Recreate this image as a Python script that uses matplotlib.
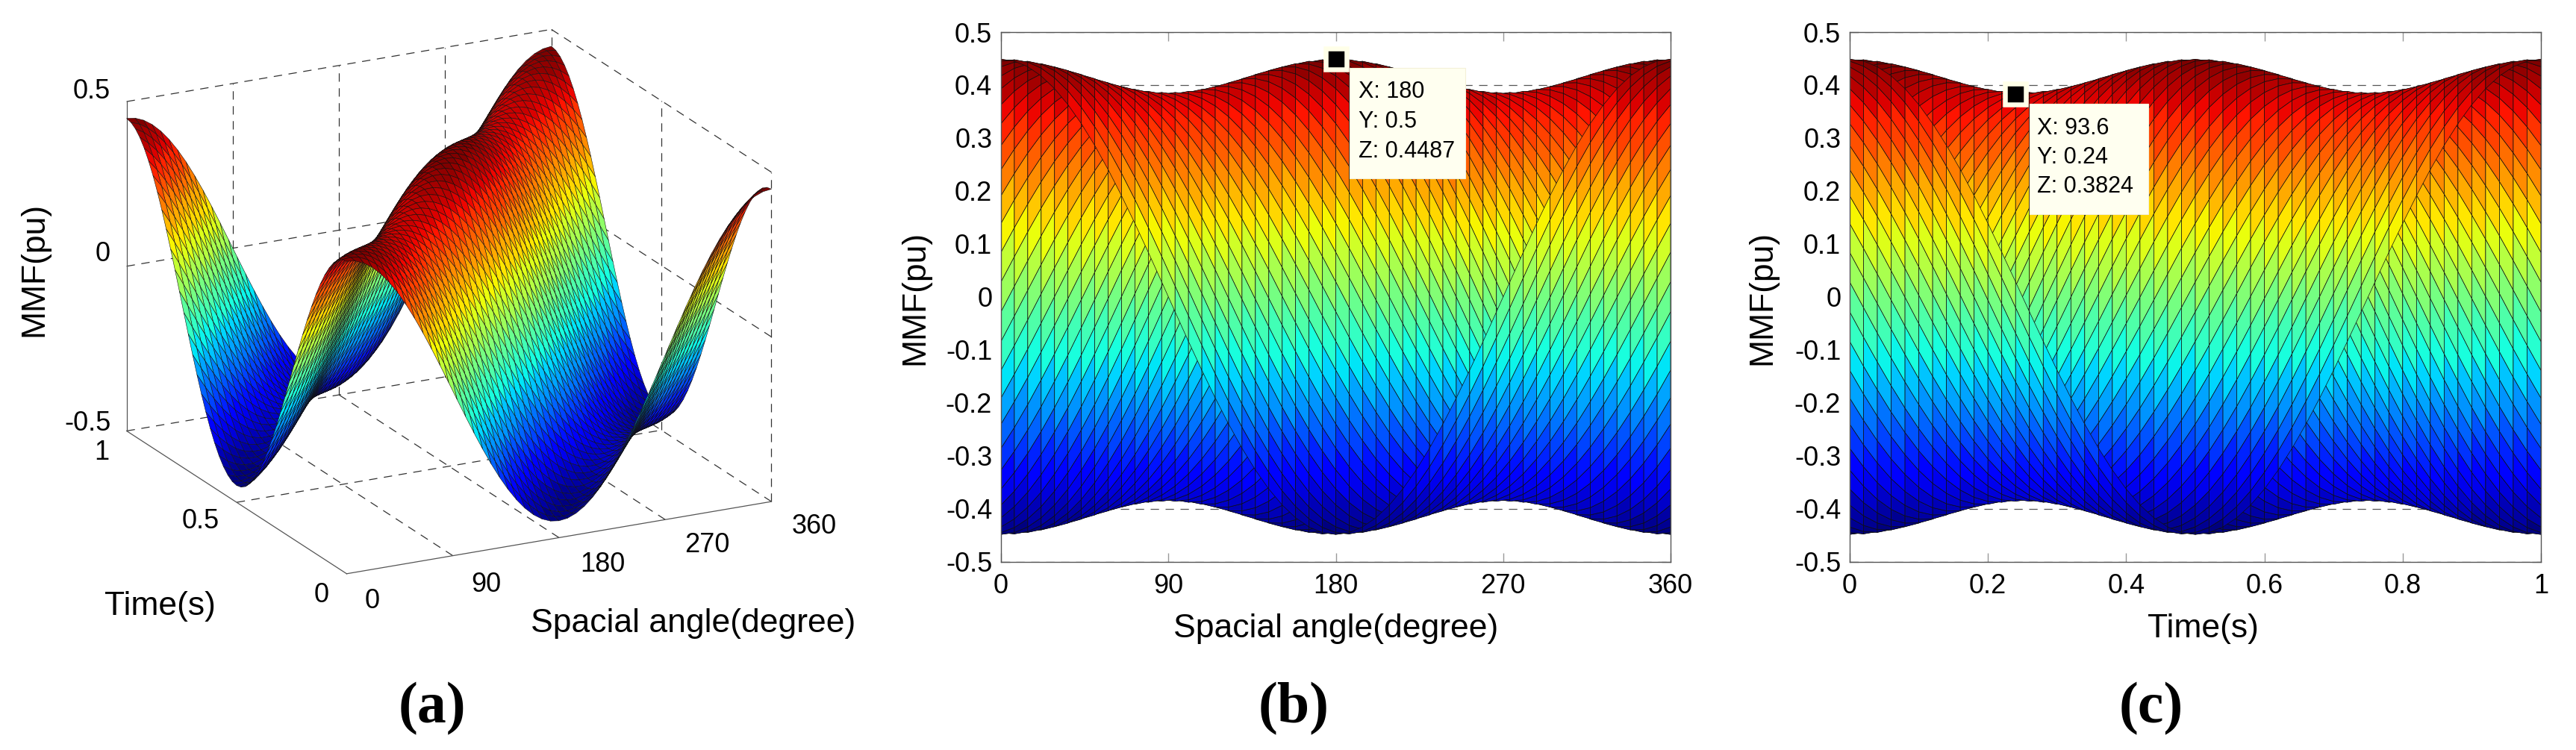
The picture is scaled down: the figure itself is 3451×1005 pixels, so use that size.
import numpy as np
import matplotlib
matplotlib.use("Agg")
import matplotlib.pyplot as plt
from matplotlib.collections import PolyCollection
from matplotlib.colors import Normalize
from matplotlib.patches import Rectangle

W, H = 3451, 1005
plt.rcParams['font.family'] = ['Liberation Sans', 'DejaVu Sans']

# Surface mesh: 51 x 51 nodes (7.2 degree / 0.02 s steps, as the datatips show).
# The surface is not typed cell by cell. It is the sum of two travelling-wave
# profiles per mesh step, estimated from the envelope and datatips of the chart.
forward_wave = [.4172, .4139, .4041, .3879, .3656, .3375, .3041, .2659, .2235, .1776,
                .1289, .0782, .0262, -.0262, -.0782, -.1289, -.1776, -.2235, -.2659, -.3041,
                -.3375, -.3656, -.3879, -.4041, -.4139, -.4172, -.4139, -.4041, -.3879, -.3656,
                -.3375, -.3041, -.2659, -.2235, -.1776, -.1289, -.0782, -.0262, .0262, .0782,
                .1289, .1776, .2235, .2659, .3041, .3375, .3656, .3879, .4041, .4139]
backward_wave = [.0315, .0313, .0305, .0293, .0276, .0255, .0230, .0201, .0169, .0134,
                 .0097, .0059, .0020, -.0020, -.0059, -.0097, -.0134, -.0169, -.0201, -.0230,
                 -.0255, -.0276, -.0293, -.0305, -.0313, -.0315, -.0313, -.0305, -.0293, -.0276,
                 -.0255, -.0230, -.0201, -.0169, -.0134, -.0097, -.0059, -.0020, .0020, .0059,
                 .0097, .0134, .0169, .0201, .0230, .0255, .0276, .0293, .0305, .0313]
angle_ticks = [0, 90, 180, 270, 360]
time_ticks_3d = [0, 0.5, 1]
time_ticks = [0, 0.2, 0.4, 0.6, 0.8, 1]
mmf_ticks_3d = [-0.5, 0, 0.5]
mmf_ticks = [-0.5, -0.4, -0.3, -0.2, -0.1, 0, 0.1, 0.2, 0.3, 0.4, 0.5]
tip_b = (180, 0.5, 0.4487)
tip_c = (93.6, 0.24, 0.3824)

n = len(forward_wave) + 1
angles = np.linspace(0, 360, n)
times = np.linspace(0, 1, n)
fw, bw = np.array(forward_wave), np.array(backward_wave)
I, J = np.meshgrid(np.arange(n), np.arange(n))
Z = fw[(I - J) % 50] + bw[(I + J) % 50]   # Z[time index, angle index]
X, T = np.meshgrid(angles, times)

cmap = plt.get_cmap('jet', 64)
norm = Normalize(Z.min(), Z.max())
EDGE = '#111111'
AXC = '#555555'
TICKFS, LABELFS, TIPFS = 26, 32, 22

fig = plt.figure(figsize=(W / 100, H / 100), dpi=100, facecolor='white')


def fx(x):
    return x / W


def fy(y):
    return 1 - y / H


def px_axes(l, t, r, b, **kw):
    return fig.add_axes([fx(l), fy(b), (r - l) / W, (b - t) / H], **kw)


def label(x, y, s, size=TICKFS, **kw):
    kw.setdefault('ha', 'center')
    kw.setdefault('va', 'center')
    fig.text(fx(x), fy(y), s, fontsize=size, color='black', **kw)


# ---------- panel (a) ----------
S = 993
ax3 = fig.add_axes([fx(91.6), 91 / H, S / W, S / H], projection='3d', proj_type='ortho')
ax3.view_init(elev=19.4, azim=-117.1)
ax3.set_box_aspect((642, 650, 470))
ax3.set_xlim(0, 360)
ax3.set_ylim(0, 1)
ax3.set_zlim(-0.5, 0.5)
ax3.set_axis_off()
ax3.patch.set_alpha(0)
ax3.computed_zorder = False
dash = dict(color='#333333', lw=0.9, ls=(0, (9, 7)), zorder=1)
for z in mmf_ticks_3d:
    ax3.plot([0, 360], [1, 1], [z, z], **dash)
    ax3.plot([360, 360], [0, 1], [z, z], **dash)
for a in angle_ticks[1:]:
    ax3.plot([a, a], [1, 1], [-.5, .5], **dash)
for a in angle_ticks[1:-1]:
    ax3.plot([a, a], [0, 1], [-.5, -.5], **dash)
ax3.plot([360, 360], [.5, .5], [-.5, .5], **dash)
ax3.plot([0, 360], [.5, .5], [-.5, -.5], **dash)
ax3.plot([360, 360], [0, 0], [-.5, .5], **dash)
solid = dict(color=AXC, lw=0.9, zorder=1.5)
ax3.plot([0, 360], [0, 0], [-.5, -.5], **solid)
ax3.plot([0, 0], [0, 1], [-.5, -.5], **solid)
ax3.plot([0, 0], [1, 1], [-.5, .5], **solid)
ax3.plot_surface(X, T, Z, rstride=1, cstride=1, facecolors=cmap(norm(Z)), shade=False,
                 edgecolor=EDGE, linewidth=0.4, antialiased=True, zorder=2)

label(46, 361, 'MMF(pu)', LABELFS, rotation=90)
for s, x, y in [('0.5', 123, 122), ('0', 138, 341), ('-0.5', 118, 567)]:
    label(x, y, s)
for v, x, y in zip(time_ticks_3d, [431, 269, 136], [797, 699, 606]):
    label(x, y, f'{v:g}')
for v, x, y in zip(angle_ticks, [499, 651, 807, 947, 1091], [805, 783, 757, 731, 705]):
    label(x, y, f'{v:g}')
label(214, 812, 'Time(s)', LABELFS)
label(929, 836, 'Spacial angle(degree)', LABELFS)


# ---------- panels (b), (c) ----------
def style_2d(ax, xticks, xlabels):
    ax.set_ylim(-0.5, 0.5)
    ax.set_yticks(mmf_ticks)
    ax.set_yticklabels([f'{v:g}' for v in mmf_ticks])
    ax.set_xticks(xticks)
    ax.set_xticklabels(xlabels)
    ax.tick_params(direction='in', top=True, right=True, length=8.5, width=1.0, color='#999999',
                   labelsize=TICKFS)
    ax.tick_params(axis='x', pad=11)
    ax.tick_params(axis='y', pad=8.5)
    ax.yaxis.grid(True, color='#555555', lw=0.9, ls=(0, (9, 7)))
    ax.set_axisbelow(True)
    for sp in ax.spines.values():
        sp.set_color(AXC)
        sp.set_linewidth(1.0)
        sp.set_zorder(5)


def cell_polys(h, Zg, order_outer_t):
    polys, vals = [], []
    if order_outer_t:   # view along time: far side t=1 first
        for j in range(n - 2, -1, -1):
            for i in range(n - 1):
                polys.append([(h[i], Zg[j, i]), (h[i + 1], Zg[j, i + 1]),
                              (h[i + 1], Zg[j + 1, i + 1]), (h[i], Zg[j + 1, i])])
                vals.append(Zg[j, i])
    else:               # view along angle: far side 0 first
        for i in range(n - 1):
            for j in range(n - 1):
                polys.append([(h[j], Zg[j, i]), (h[j + 1], Zg[j + 1, i]),
                              (h[j + 1], Zg[j + 1, i + 1]), (h[j], Zg[j, i + 1])])
                vals.append(Zg[j, i])
    return polys, np.array(vals)


def surface_2d(ax, h, along_time):
    polys, vals = cell_polys(h, Z, along_time)
    pc = PolyCollection(polys, array=vals, cmap=cmap, norm=norm, edgecolors=EDGE,
                        linewidths=0.5, zorder=2)
    ax.add_collection(pc)


def tip(ax, xy, box, rows, textx, texty):
    ax.plot([xy[0]], [xy[1]], marker='s', ms=19.8, mfc='black', mec='#ffffe8', mew=4.7,
            ls='none', zorder=6, clip_on=False)
    fig.add_artist(Rectangle((fx(box[0]), fy(box[3])), (box[2] - box[0]) / W, (box[3] - box[1]) / H,
                             transform=fig.transFigure, fc='#fffff0', ec='#f4f0d8', lw=0.8, zorder=2.5))
    for s, y in zip(rows, texty):
        label(textx, y, s, TIPFS, ha='left')


axb = px_axes(1341, 43, 2238, 752.5)
axb.set_xlim(0, 360)
style_2d(axb, angle_ticks, [f'{v:g}' for v in angle_ticks])
surface_2d(axb, angles, True)
tip(axb, (tip_b[0], tip_b[2]), (1808, 91, 1963, 239),
    [f'X: {tip_b[0]:g}', f'Y: {tip_b[1]:g}', f'Z: {tip_b[2]:g}'], 1820, [123, 163, 203])
label(1226, 399, 'MMF(pu)', LABELFS, rotation=90)
label(1790, 842, 'Spacial angle(degree)', LABELFS)

axc = px_axes(2478, 43, 3404, 752.5)
axc.set_xlim(0, 1)
style_2d(axc, time_ticks, [f'{v:g}' for v in time_ticks])
surface_2d(axc, times, False)
tip(axc, (tip_c[1], tip_c[2]), (2719, 139, 2878, 287),
    [f'X: {tip_c[0]:g}', f'Y: {tip_c[1]:g}', f'Z: {tip_c[2]:g}'], 2729, [172, 211, 250])
label(2361, 399, 'MMF(pu)', LABELFS, rotation=90)
label(2951, 842, 'Time(s)', LABELFS)

# ---------- panel letters ----------
for s, x in [('(a)', 579), ('(b)', 1733), ('(c)', 2882)]:
    label(x, 950, s, 56, family=['Liberation Serif', 'DejaVu Serif'], weight='bold')

fig.savefig('out.png', dpi=100, facecolor='white')
